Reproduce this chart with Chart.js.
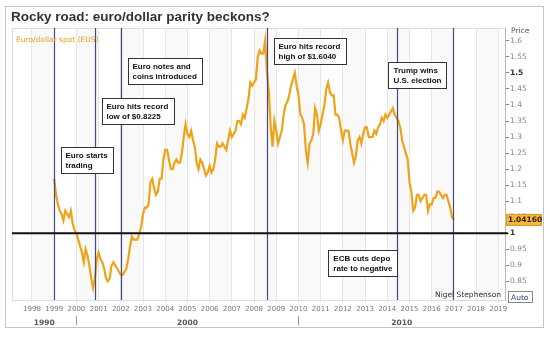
<!DOCTYPE html>
<html>
<head>
<meta charset="utf-8">
<script src="https://cdn.jsdelivr.net/npm/chart.js@4.4.0/dist/chart.umd.min.js"></script>
<style>
  html, body { margin: 0; padding: 0; background: #fff; }
  #wrap { width: 550px; height: 337px; position: relative; }
</style>
</head>
<body>
<div id="wrap"><canvas id="c" width="550" height="337"></canvas></div>
<script>
// Euro/dollar spot, monthly readings, one array per year (Jan..Dec)
const rate1999 = [1.17, 1.12, 1.09, 1.07, 1.06, 1.04, 1.07, 1.06, 1.05, 1.07, 1.03, 1.01];
const rate2000 = [1.00, 0.98, 0.96, 0.94, 0.91, 0.95, 0.93, 0.90, 0.86, 0.83, 0.86, 0.92];
const rate2001 = [0.94, 0.92, 0.91, 0.89, 0.86, 0.85, 0.86, 0.90, 0.91, 0.90, 0.89, 0.88];
const rate2002 = [0.87, 0.87, 0.88, 0.89, 0.92, 0.96, 0.99, 0.98, 0.98, 0.98, 1.00, 1.02];
const rate2003 = [1.06, 1.08, 1.08, 1.09, 1.16, 1.17, 1.14, 1.12, 1.13, 1.17, 1.17, 1.23];
const rate2004 = [1.26, 1.26, 1.23, 1.20, 1.20, 1.22, 1.23, 1.22, 1.22, 1.25, 1.30, 1.34];
const rate2005 = [1.31, 1.30, 1.32, 1.29, 1.27, 1.22, 1.20, 1.23, 1.22, 1.20, 1.18, 1.19];
const rate2006 = [1.21, 1.19, 1.20, 1.23, 1.28, 1.27, 1.27, 1.28, 1.27, 1.26, 1.29, 1.32];
const rate2007 = [1.30, 1.31, 1.32, 1.35, 1.35, 1.34, 1.37, 1.36, 1.39, 1.42, 1.47, 1.46];
const rate2008 = [1.47, 1.48, 1.55, 1.57, 1.56, 1.56, 1.60, 1.50, 1.44, 1.33, 1.27, 1.35];
const rate2009 = [1.32, 1.28, 1.30, 1.32, 1.37, 1.40, 1.41, 1.43, 1.46, 1.48, 1.50, 1.46];
const rate2010 = [1.43, 1.37, 1.36, 1.34, 1.26, 1.22, 1.28, 1.29, 1.31, 1.39, 1.37, 1.32];
const rate2011 = [1.34, 1.37, 1.40, 1.45, 1.47, 1.44, 1.43, 1.43, 1.37, 1.37, 1.36, 1.32];
const rate2012 = [1.29, 1.32, 1.32, 1.32, 1.28, 1.25, 1.22, 1.24, 1.29, 1.30, 1.28, 1.31];
const rate2013 = [1.33, 1.33, 1.30, 1.30, 1.30, 1.32, 1.31, 1.33, 1.34, 1.36, 1.35, 1.37];
const rate2014 = [1.36, 1.37, 1.38, 1.39, 1.37, 1.36, 1.35, 1.33, 1.29, 1.27, 1.25, 1.23];
const rate2015 = [1.16, 1.13, 1.07, 1.08, 1.12, 1.12, 1.10, 1.11, 1.12, 1.12, 1.07, 1.09];
const rate2016 = [1.09, 1.11, 1.11, 1.13, 1.13, 1.12, 1.11, 1.12, 1.12, 1.10, 1.08, 1.05];
const rate2017 = [1.0416];

const firstYear = 1999;
const ratesByYear = [rate1999, rate2000, rate2001, rate2002, rate2003, rate2004, rate2005,
  rate2006, rate2007, rate2008, rate2009, rate2010, rate2011, rate2012, rate2013, rate2014,
  rate2015, rate2016, rate2017];

const yearTicks = [1998, 1999, 2000, 2001, 2002, 2003, 2004, 2005, 2006, 2007, 2008,
  2009, 2010, 2011, 2012, 2013, 2014, 2015, 2016, 2017, 2018, 2019];
const decadeStarts = [1990, 2000, 2010];
const decadeLabels = ['1990', '2000', '2010'];
const priceTicks = [0.85, 0.9, 0.95, 1, 1.05, 1.1, 1.15, 1.2, 1.25, 1.3, 1.35, 1.4, 1.45, 1.5, 1.55, 1.6];
const boldPrices = [1, 1.5];
const lastPrice = 1.04160;
const parityLevel = 1;

// Event dates (decimal years) and their captions
const eventDates = [1999.01, 2000.82, 2002.0, 2008.6, 2014.43, 2016.95];
const eventTexts = [
  ['Euro starts', 'trading'],
  ['Euro hits record', 'low of $0.8225'],
  ['Euro notes and', 'coins introduced'],
  ['Euro hits record', 'high of $1.6040'],
  ['ECB cuts depo', 'rate to negative'],
  ['Trump wins', 'U.S. election']
];

// Caption box placement: side of the event line, gap to the line, top edge in px
const captionSide = ['right', 'right', 'right', 'right', 'left', 'left'];
const captionGap = [6, 6, 6, 6, 0, 7];
const captionTop = [147, 98, 58, 38, 250, 62];

// Build the point list from the yearly arrays
const points = [];
ratesByYear.forEach((arr, i) => {
  arr.forEach((v, m) => points.push({ x: firstYear + i + m / 12, y: v }));
});

const SMALL = '"DejaVu Sans", sans-serif';
const CAPTION = '"Liberation Sans", Arial, sans-serif';
const isBold = ctx => !!(ctx && ctx.tick && boldPrices.includes(ctx.tick.value));

const decor = {
  id: 'decor',
  beforeDraw(chart) {
    const { ctx, chartArea: a, scales: { x } } = chart;
    ctx.save();
    ctx.fillStyle = '#fff';
    ctx.fillRect(0, 0, chart.width, chart.height);
    // alternate year bands
    for (let yr = 1997; yr <= 2019; yr++) {
      if (yr % 2) continue;
      const x0 = Math.max(a.left, x.getPixelForValue(yr));
      const x1 = Math.min(a.right, x.getPixelForValue(yr + 1));
      if (x1 > x0) { ctx.fillStyle = '#f9f9f9'; ctx.fillRect(x0, a.top, x1 - x0, a.bottom - a.top); }
    }
    // outer frame
    ctx.strokeStyle = '#c4c4c4';
    ctx.lineWidth = 1;
    ctx.strokeRect(5.5, 6.5, 538, 321);
    // plot box
    ctx.strokeStyle = '#dcdcdc';
    ctx.strokeRect(a.left + 0.5, a.top + 0.5, a.right - a.left, a.bottom - a.top);
    // title
    ctx.fillStyle = '#333';
    ctx.font = 'bold 13.5px "Liberation Sans", Arial, sans-serif';
    ctx.textBaseline = 'alphabetic';
    ctx.fillText('Rocky road: euro/dollar parity beckons?', 11, 21);
    ctx.restore();
  },
  afterDatasetsDraw(chart) {
    const { ctx, chartArea: a, scales: { x, y } } = chart;
    ctx.save();
    // event lines
    ctx.strokeStyle = '#44478a';
    ctx.lineWidth = 1.2;
    const ex = eventDates.map(d => Math.round(x.getPixelForValue(d)) + 0.5);
    ex.forEach(px => { ctx.beginPath(); ctx.moveTo(px, a.top); ctx.lineTo(px, a.bottom); ctx.stroke(); });
    // parity line
    const py = y.getPixelForValue(parityLevel);
    ctx.strokeStyle = '#111';
    ctx.lineWidth = 2;
    ctx.beginPath(); ctx.moveTo(a.left, py); ctx.lineTo(a.right + 3, py); ctx.stroke();

    // captions
    ctx.font = 'bold 8px ' + CAPTION;
    ctx.textBaseline = 'alphabetic';
    eventTexts.forEach((lines, i) => {
      const w = Math.max(...lines.map(t => ctx.measureText(t).width)) + 10;
      const h = 26;
      const left = captionSide[i] === 'right' ? ex[i] + captionGap[i] : ex[i] - captionGap[i] - w;
      const top = captionTop[i];
      ctx.fillStyle = '#fff';
      ctx.fillRect(left, top, w, h);
      ctx.strokeStyle = '#333';
      ctx.lineWidth = 1;
      ctx.strokeRect(Math.round(left) + 0.5, top + 0.5, Math.round(w), h);
      ctx.fillStyle = '#111';
      lines.forEach((t, k) => ctx.fillText(t, left + 5, top + 11 + k * 10));
    });

    // series legend
    ctx.fillStyle = '#e8a020';
    ctx.font = '7.5px ' + SMALL;
    ctx.fillText('Euro/dollar spot (EUS)', 16, 42);

    // credit + Auto box
    ctx.fillStyle = '#333';
    ctx.font = '7.5px ' + SMALL;
    ctx.textAlign = 'right';
    ctx.fillText('Nigel Stephenson', a.right - 4, 297);
    ctx.textAlign = 'left';
    ctx.fillStyle = '#fff';
    ctx.fillRect(a.right + 3, 291, 24, 11);
    ctx.strokeStyle = '#888';
    ctx.strokeRect(a.right + 3.5, 291.5, 24, 11);
    ctx.fillStyle = '#2b3f7a';
    ctx.fillText('Auto', a.right + 6, 300);

    // axis title
    ctx.fillStyle = '#555';
    ctx.font = '7.5px ' + SMALL;
    ctx.fillText('Price', a.right + 6, 33);

    // last price tag
    const ly = y.getPixelForValue(lastPrice);
    ctx.fillStyle = '#f2b640';
    ctx.fillRect(a.right + 1, ly - 6, 36, 12);
    ctx.strokeStyle = '#d99a20';
    ctx.strokeRect(a.right + 1.5, ly - 5.5, 35, 11);
    ctx.fillStyle = '#3a2400';
    ctx.font = 'bold 7.5px ' + SMALL;
    ctx.textBaseline = 'middle';
    ctx.fillText(lastPrice.toFixed(5), a.right + 3, ly + 0.5);

    // decade labels under the year ticks
    ctx.textBaseline = 'alphabetic';
    ctx.textAlign = 'center';
    ctx.font = 'bold 7.5px ' + SMALL;
    ctx.fillStyle = '#555';
    decadeStarts.forEach((d, i) => {
      const lo = Math.max(x.min, d), hi = Math.min(x.max, d + 10);
      const cx = x.getPixelForValue((lo + hi) / 2);
      ctx.fillText(decadeLabels[i], cx, 325);
      if (d > x.min) {
        const sx = Math.round(x.getPixelForValue(d)) + 0.5;
        ctx.strokeStyle = '#999';
        ctx.beginPath(); ctx.moveTo(sx, 316); ctx.lineTo(sx, 325); ctx.stroke();
      }
    });
    ctx.restore();
  }
};

new Chart(document.getElementById('c'), {
  type: 'line',
  data: {
    datasets: [{
      data: points,
      borderColor: '#efa318',
      borderWidth: 2.2,
      pointRadius: 0,
      tension: 0
    }]
  },
  options: {
    responsive: false,
    animation: false,
    layout: { padding: { left: 12, top: 28, right: 0, bottom: 0 } },
    plugins: { legend: { display: false }, tooltip: { enabled: false } },
    scales: {
      x: {
        type: 'linear',
        min: 1997.1,
        max: 2019.3,
        afterBuildTicks: s => { s.ticks = yearTicks.map(v => ({ value: v })); },
        afterFit: s => { s.height = 37; },
        grid: { color: '#e6e6e6', tickLength: 3, drawTicks: true },
        border: { display: false },
        ticks: {
          color: '#777',
          font: { size: 7, family: SMALL },
          maxRotation: 0,
          autoSkip: false,
          padding: 2,
          callback: v => String(v)
        }
      },
      y: {
        position: 'right',
        min: 0.792,
        max: 1.64,
        afterBuildTicks: s => { s.ticks = priceTicks.map(v => ({ value: v })); },
        afterFit: s => { s.width = 45; },
        grid: { drawOnChartArea: false, tickLength: 4, color: '#888' },
        border: { display: true, color: '#bbb' },
        ticks: {
          color: ctx => isBold(ctx) ? '#333' : '#888',
          font: ctx => ({ size: 7.5, family: SMALL, weight: isBold(ctx) ? 'bold' : 'normal' }),
          padding: 1,
          callback: v => String(Number(v.toFixed(2)))
        }
      }
    }
  },
  plugins: [decor]
});
</script>
</body>
</html>
